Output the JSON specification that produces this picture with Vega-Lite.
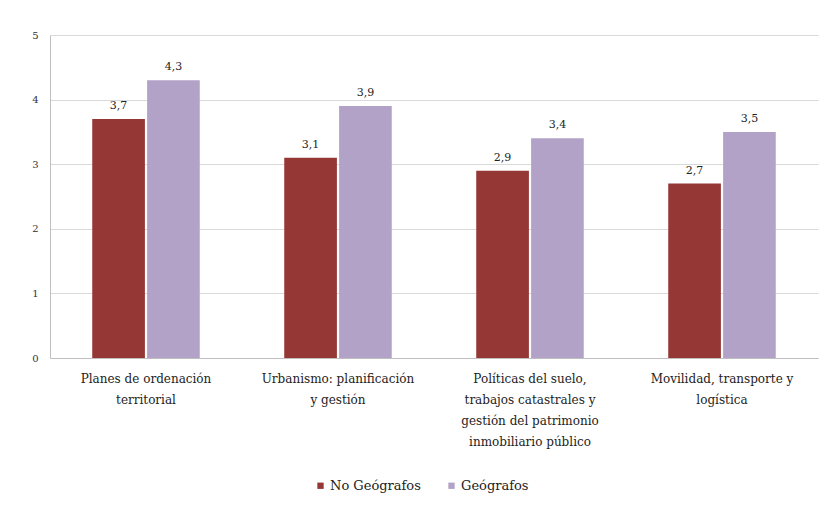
{
  "$schema": "https://vega.github.io/schema/vega-lite/v6.json",
  "autosize": {"type": "none"},
  "width": 768,
  "height": 323,
  "padding": {"left": 50, "top": 35, "right": 14, "bottom": 155},
  "background": "white",
  "config": {
    "font": "DejaVu Serif",
    "view": {"stroke": null},
    "locale": {"number": {"decimal": ",", "thousands": ".", "grouping": [3], "currency": ["", " €"]}}
  },
  "data": {
    "values": [
      {"area": "Planes de ordenación\nterritorial", "grupo": "No Geógrafos", "valor": 3.7},
      {"area": "Planes de ordenación\nterritorial", "grupo": "Geógrafos", "valor": 4.3},
      {"area": "Urbanismo: planificación\ny gestión", "grupo": "No Geógrafos", "valor": 3.1},
      {"area": "Urbanismo: planificación\ny gestión", "grupo": "Geógrafos", "valor": 3.9},
      {"area": "Políticas del suelo,\ntrabajos catastrales y\ngestión del patrimonio\ninmobiliario público", "grupo": "No Geógrafos", "valor": 2.9},
      {"area": "Políticas del suelo,\ntrabajos catastrales y\ngestión del patrimonio\ninmobiliario público", "grupo": "Geógrafos", "valor": 3.4},
      {"area": "Movilidad, transporte y\nlogística", "grupo": "No Geógrafos", "valor": 2.7},
      {"area": "Movilidad, transporte y\nlogística", "grupo": "Geógrafos", "valor": 3.5}
    ]
  },
  "encoding": {
    "x": {
      "field": "area",
      "type": "nominal",
      "sort": null,
      "scale": {"paddingInner": 0.44, "paddingOuter": 0.22},
      "axis": {
        "title": null,
        "labelAngle": 0,
        "labelExpr": "split(datum.label, '\\n')",
        "labelFont": "DejaVu Serif",
        "labelFontSize": 12,
        "labelLineHeight": 21,
        "labelColor": "#222222",
        "labelPadding": 15,
        "labelBaseline": "top",
        "ticks": false,
        "domainColor": "#bfbfbf",
        "labelLimit": 0
      }
    },
    "xOffset": {
      "field": "grupo",
      "type": "nominal",
      "sort": ["No Geógrafos", "Geógrafos"],
      "scale": {"paddingInner": 0.04}
    },
    "y": {
      "field": "valor",
      "type": "quantitative",
      "scale": {"domain": [0, 5], "nice": false},
      "axis": {
        "title": null,
        "values": [0, 1, 2, 3, 4, 5],
        "format": "d",
        "labelFont": "DejaVu Serif",
        "labelFontSize": 10,
        "labelColor": "#333333",
        "labelPadding": 12,
        "ticks": false,
        "domainColor": "#bfbfbf",
        "gridColor": "#d9d9d9",
        "grid": true
      }
    }
  },
  "layer": [
    {
      "mark": {"type": "bar"},
      "encoding": {
        "color": {
          "field": "grupo",
          "type": "nominal",
          "sort": ["No Geógrafos", "Geógrafos"],
          "scale": {"domain": ["No Geógrafos", "Geógrafos"], "range": ["#953735", "#b3a2c7"]},
          "legend": {
            "title": null,
            "orient": "none",
            "direction": "horizontal",
            "legendX": 264,
            "legendY": 444,
            "symbolType": "square",
            "symbolSize": 40,
            "symbolStrokeWidth": 0,
            "labelFont": "DejaVu Serif",
            "labelFontSize": 13,
            "labelColor": "#222222",
            "labelOffset": 3,
            "columnPadding": 24
          }
        }
      }
    },
    {
      "mark": {"type": "text", "baseline": "alphabetic", "dy": -10, "fontSize": 11, "font": "DejaVu Serif", "color": "#222222"},
      "encoding": {
        "text": {"field": "valor", "type": "quantitative", "format": ".1f"}
      }
    }
  ]
}
